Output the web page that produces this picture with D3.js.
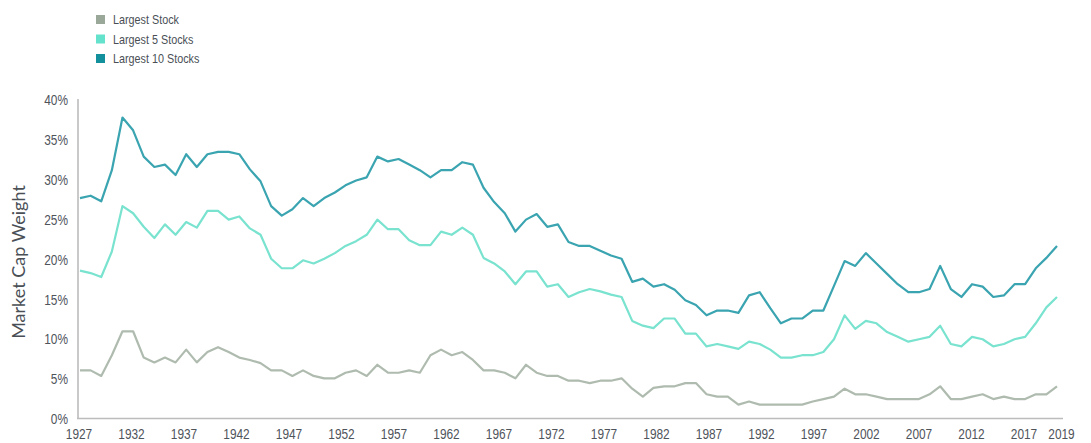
<!DOCTYPE html>
<html>
<head>
<meta charset="utf-8">
<script src="https://cdn.jsdelivr.net/npm/d3@7"></script>
<style>
  body { margin: 0; background: #fff; }
  .tick text { font-family: "Liberation Sans Narrow", "Liberation Sans", sans-serif; fill: #4f545b; }
</style>
</head>
<body>
<div id="chart"></div>
<script>
// data
var years = [1927, 1928, 1929, 1930, 1931, 1932, 1933, 1934, 1935, 1936,
  1937, 1938, 1939, 1940, 1941, 1942, 1943, 1944, 1945, 1946,
  1947, 1948, 1949, 1950, 1951, 1952, 1953, 1954, 1955, 1956,
  1957, 1958, 1959, 1960, 1961, 1962, 1963, 1964, 1965, 1966,
  1967, 1968, 1969, 1970, 1971, 1972, 1973, 1974, 1975, 1976,
  1977, 1978, 1979, 1980, 1981, 1982, 1983, 1984, 1985, 1986,
  1987, 1988, 1989, 1990, 1991, 1992, 1993, 1994, 1995, 1996,
  1997, 1998, 1999, 2000, 2001, 2002, 2003, 2004, 2005, 2006,
  2007, 2008, 2009, 2010, 2011, 2012, 2013, 2014, 2015, 2016,
  2017, 2018, 2019];

// Largest Stock
var largest1 = [6.1, 6.1, 5.4, 8.0, 11.0, 11.0, 7.7, 7.1, 7.7, 7.1,
  8.7, 7.1, 8.4, 9.0, 8.4, 7.7, 7.4, 7.0, 6.1, 6.1,
  5.4, 6.1, 5.4, 5.1, 5.1, 5.8, 6.1, 5.4, 6.8, 5.8,
  5.8, 6.1, 5.8, 8.0, 8.7, 8.0, 8.4, 7.4, 6.1, 6.1,
  5.8, 5.1, 6.8, 5.8, 5.4, 5.4, 4.8, 4.8, 4.5, 4.8,
  4.8, 5.1, 3.8, 2.8, 3.9, 4.1, 4.1, 4.5, 4.5, 3.1,
  2.8, 2.8, 1.8, 2.2, 1.8, 1.8, 1.8, 1.8, 1.8, 2.2,
  2.5, 2.8, 3.8, 3.1, 3.1, 2.8, 2.5, 2.5, 2.5, 2.5,
  3.1, 4.1, 2.5, 2.5, 2.8, 3.1, 2.5, 2.8, 2.5, 2.5,
  3.1, 3.1, 4.1];

// Largest 5 Stocks
var largest5 = [18.6, 18.3, 17.8, 21.0, 26.7, 25.8, 24.1, 22.7, 24.4, 23.1,
  24.7, 24.0, 26.1, 26.1, 25.0, 25.4, 23.9, 23.1, 20.1, 18.9,
  18.9, 19.9, 19.5, 20.1, 20.8, 21.7, 22.3, 23.1, 25.0, 23.8,
  23.8, 22.4, 21.8, 21.8, 23.5, 23.1, 24.0, 23.1, 20.2, 19.5,
  18.5, 16.9, 18.5, 18.5, 16.6, 16.9, 15.3, 15.9, 16.3, 16.0,
  15.6, 15.3, 12.3, 11.7, 11.4, 12.6, 12.6, 10.7, 10.7, 9.1,
  9.4, 9.1, 8.8, 9.7, 9.4, 8.7, 7.7, 7.7, 8.0, 8.0,
  8.4, 10.0, 13.0, 11.3, 12.3, 12.0, 10.9, 10.3, 9.7, 10.0,
  10.3, 11.7, 9.4, 9.1, 10.3, 10.0, 9.1, 9.4, 10.0, 10.3,
  12.0, 14.0, 15.3];

// Largest 10 Stocks
var largest10 = [27.7, 28.0, 27.3, 31.2, 37.8, 36.2, 32.9, 31.6, 31.9, 30.6,
  33.2, 31.6, 33.2, 33.5, 33.5, 33.2, 31.3, 29.8, 26.7, 25.5,
  26.3, 27.7, 26.7, 27.7, 28.4, 29.3, 29.9, 30.3, 32.9, 32.3,
  32.6, 31.9, 31.2, 30.3, 31.2, 31.2, 32.2, 31.9, 29.0, 27.2,
  25.8, 23.5, 25.0, 25.7, 24.1, 24.4, 22.2, 21.7, 21.7, 21.1,
  20.5, 20.1, 17.2, 17.6, 16.6, 16.9, 16.2, 14.9, 14.3, 13.0,
  13.6, 13.6, 13.3, 15.5, 15.9, 13.9, 12.0, 12.6, 12.6, 13.6,
  13.6, 16.7, 19.8, 19.2, 20.8, 19.5, 18.2, 16.9, 15.9, 15.9,
  16.3, 19.2, 16.3, 15.3, 16.9, 16.6, 15.3, 15.5, 16.9, 16.9,
  18.9, 20.2, 21.7];

var seriesNames = ["Largest Stock", "Largest 5 Stocks", "Largest 10 Stocks"];
var legendColors = ["#9aa89a", "#64e2cb", "#12919c"];
var lineColors = ["#afbbaf", "#79e3cf", "#3aa4b0"];
var seriesValues = [largest1, largest5, largest10];

var xTickYears = [1927, 1932, 1937, 1942, 1947, 1952, 1957, 1962, 1967, 1972,
  1977, 1982, 1987, 1992, 1997, 2002, 2007, 2012, 2017, 2019];
var yTicks = [0, 5, 10, 15, 20, 25, 30, 35, 40];

var width = 1091, height = 443;
var narrow = 0.82; // squeeze for the condensed face of the original

var svg = d3.select("#chart")
  .append("svg")
    .attr("width", width)
    .attr("height", height);

// scales
var x = d3.scaleLinear()
  .domain([1927, 2019])
  .range([80, 1057]);

// the tick labels sit on a slightly tighter spacing than the data points
var xLabel = d3.scaleLinear()
  .domain([1927, 2019])
  .range([78.5, 1044.5]);

var y = d3.scaleLinear()
  .domain([0, 40])
  .range([419, 100]);

// axis lines
svg.append("line")
  .attr("x1", 78).attr("x2", 78)
  .attr("y1", y(40) - 1).attr("y2", y(0))
  .attr("stroke", "#bcbcbc")
  .attr("stroke-width", 1.6);

svg.append("line")
  .attr("x1", 77).attr("x2", 1063)
  .attr("y1", y(0) - 0.5).attr("y2", y(0) - 0.5)
  .attr("stroke", "#bcbcbc")
  .attr("stroke-width", 1.6);

// Y axis
var yAxis = svg.append("g")
  .attr("transform", "translate(78,0)")
  .call(d3.axisLeft(y)
    .tickValues(yTicks)
    .tickSize(0)
    .tickPadding(10)
    .tickFormat(function(d) { return d + "%"; }));
yAxis.select(".domain").remove();
yAxis.selectAll("text")
  .style("font-size", "14.5px")
  .attr("x", -10 / narrow)
  .attr("transform", "scale(" + narrow + ",1)");

// X axis
var xAxis = svg.append("g")
  .attr("transform", "translate(0," + 425 + ")")
  .call(d3.axisBottom(xLabel)
    .tickValues(xTickYears)
    .tickSize(0)
    .tickPadding(4)
    .tickFormat(d3.format("d")));
xAxis.select(".domain").remove();
xAxis.selectAll("text")
  .style("font-size", "14.5px")
  .attr("transform", "scale(" + narrow + ",1)");
xAxis.selectAll(".tick").filter(function(d) { return d === 2019; })
  .select("text").attr("dx", 16.5 / narrow);

// Y axis title
svg.append("text")
  .attr("transform", "translate(25,262) rotate(-90)")
  .attr("text-anchor", "middle")
  .style("font-family", "Lato, 'Liberation Sans', sans-serif")
  .style("font-size", "18px")
  .style("fill", "#4a4f56")
  .text("Market Cap Weight");

// lines
var line = d3.line()
  .x(function(d, i) { return x(years[i]); })
  .y(function(d) { return y(d); });

svg.selectAll(".series")
  .data(seriesValues)
  .enter()
  .append("path")
    .attr("class", "series")
    .attr("fill", "none")
    .attr("stroke", function(d, i) { return lineColors[i]; })
    .attr("stroke-width", 2.2)
    .attr("stroke-linejoin", "round")
    .attr("d", line);

// legend
var legend = svg.selectAll(".legend")
  .data(seriesNames)
  .enter()
  .append("g")
    .attr("class", "legend")
    .attr("transform", function(d, i) { return "translate(96," + (15 + i * 19.5) + ")"; });

legend.append("rect")
  .attr("width", 9)
  .attr("height", 9)
  .attr("fill", function(d, i) { return legendColors[i]; });

legend.append("text")
  .attr("transform", "translate(17,0) scale(0.83,1)")
  .attr("y", 4.5)
  .attr("dy", "0.35em")
  .style("font-family", "'Liberation Sans Narrow', 'Liberation Sans', sans-serif")
  .style("font-size", "13px")
  .style("fill", "#4a4f56")
  .text(function(d) { return d; });
</script>
</body>
</html>
